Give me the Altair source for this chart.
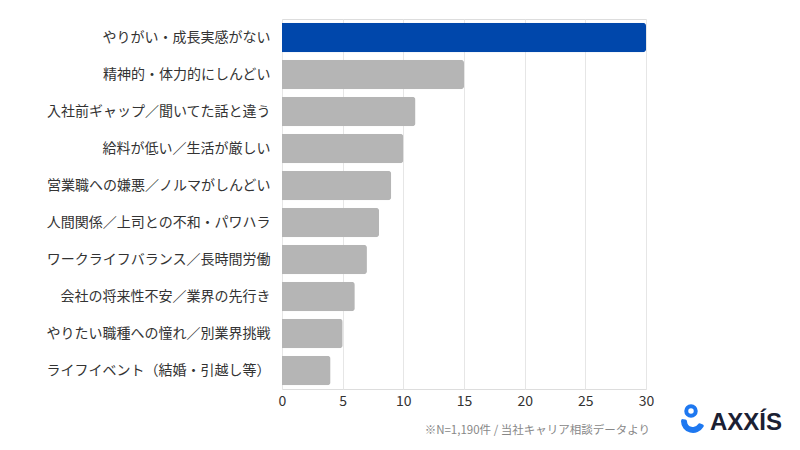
import altair as alt
import pandas as pd

categories = [
    "やりがい・成長実感がない",
    "精神的・体力的にしんどい",
    "入社前ギャップ／聞いてた話と違う",
    "給料が低い／生活が厳しい",
    "営業職への嫌悪／ノルマがしんどい",
    "人間関係／上司との不和・パワハラ",
    "ワークライフバランス／長時間労働",
    "会社の将来性不安／業界の先行き",
    "やりたい職種への憧れ／別業界挑戦",
    "ライフイベント（結婚・引越し等）",
]
values = [30, 15, 11, 10, 9, 8, 7, 6, 5, 4]
highlight = [True] + [False] * 9
footnote = ["※N=1,190件 / 当社キャリア相談データより"]
logo_text = ["AXXÍS"]

df = pd.DataFrame({"category": categories, "value": values, "hl": highlight})
FONT = "Noto Sans CJK JP"

bars = alt.Chart(df).mark_bar(cornerRadiusEnd=3).encode(
    y=alt.Y("category:N", sort=categories, title=None,
            scale=alt.Scale(paddingInner=0.2, paddingOuter=0.1),
            axis=alt.Axis(domain=False, ticks=False, labelFont=FONT, labelFontSize=14,
                          labelColor="#333333", labelPadding=12, labelLimit=300)),
    x=alt.X("value:Q", title=None, scale=alt.Scale(domain=[0, 30], nice=False),
            axis=alt.Axis(values=[0, 5, 10, 15, 20, 25, 30], domain=False, ticks=False,
                          grid=True, gridColor="#e6e6e6", labelFont=FONT, labelFontSize=14,
                          labelColor="#333333", labelPadding=5, labelFlush=False)),
    color=alt.Color("hl:N", scale=alt.Scale(domain=[True, False], range=["#0047AB", "#B5B5B5"]),
                    legend=None),
)

note = alt.Chart(pd.DataFrame({"note": footnote})).mark_text(
    align="right", baseline="middle", font=FONT, fontSize=11.5, color="#888888"
).encode(text="note:N", x=alt.value(368), y=alt.value(412))

logo = alt.Chart(pd.DataFrame({"brand": logo_text})).mark_text(
    align="left", baseline="middle", font="Liberation Sans", fontSize=24, fontWeight="bold",
    color="#1b2033"
).encode(text="brand:N", x=alt.value(428), y=alt.value(404))

head = alt.Chart(pd.DataFrame({"h": [1]})).mark_point(
    shape="circle", filled=False, size=90, strokeWidth=4, color="#1E78F0", opacity=1
).encode(x=alt.value(409), y=alt.value(392))

body = alt.Chart(pd.DataFrame({"b": [1]})).mark_arc(
    innerRadius=6, outerRadius=12, color="#1E78F0", theta=1.9, theta2=4.9, cornerRadius=2
).encode(x=alt.value(411), y=alt.value(402))

chart = alt.layer(bars, note, head, body, logo).properties(
    width=364, height=370,
    autosize=alt.AutoSizeParams(type="none"),
    padding={"left": 282, "top": 19, "right": 154, "bottom": 61},
).configure_view(stroke=None).configure(background="white")

chart.save("out.html", embed_options={"renderer": "svg", "actions": False})
